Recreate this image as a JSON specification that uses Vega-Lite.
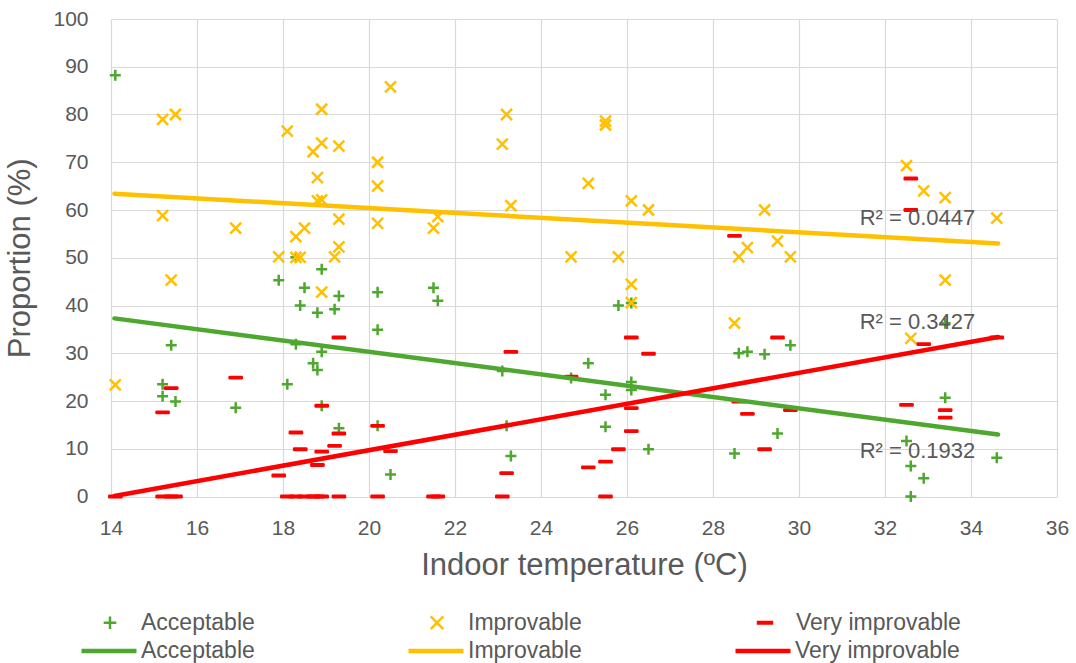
{
  "$schema": "https://vega.github.io/schema/vega-lite/v6.json",
  "width": 946,
  "height": 477.5,
  "autosize": {"type": "none"},
  "padding": {"left": 111, "top": 19, "right": 19, "bottom": 166},
  "background": "white",
  "config": {
    "font": "Liberation Sans",
    "view": {"stroke": null},
    "axis": {
      "gridColor": "#D9D9D9",
      "gridWidth": 1.2,
      "domain": false,
      "ticks": false,
      "labelFlush": false,
      "labelColor": "#595959",
      "titleColor": "#595959",
      "labelFontSize": 21,
      "titleFontSize": 31,
      "titleFontWeight": "normal"
    },
    "legend": {"labelLimit": 400}
  },
  "datasets": {
    "obs": [
      {"t": 14.1, "p": 88.2, "s": "Acceptable"},
      {"t": 17.9, "p": 45.3, "s": "Acceptable"},
      {"t": 18.3, "p": 50.1, "s": "Acceptable"},
      {"t": 18.9, "p": 47.6, "s": "Acceptable"},
      {"t": 18.5, "p": 43.7, "s": "Acceptable"},
      {"t": 19.3, "p": 42.0, "s": "Acceptable"},
      {"t": 18.4, "p": 40.0, "s": "Acceptable"},
      {"t": 18.8, "p": 38.5, "s": "Acceptable"},
      {"t": 19.2, "p": 39.2, "s": "Acceptable"},
      {"t": 15.4, "p": 31.7, "s": "Acceptable"},
      {"t": 18.3, "p": 31.9, "s": "Acceptable"},
      {"t": 18.9, "p": 30.3, "s": "Acceptable"},
      {"t": 18.7, "p": 27.9, "s": "Acceptable"},
      {"t": 18.8, "p": 26.5, "s": "Acceptable"},
      {"t": 18.1, "p": 23.5, "s": "Acceptable"},
      {"t": 15.2, "p": 23.5, "s": "Acceptable"},
      {"t": 15.2, "p": 21.0, "s": "Acceptable"},
      {"t": 15.5, "p": 19.9, "s": "Acceptable"},
      {"t": 16.9, "p": 18.6, "s": "Acceptable"},
      {"t": 18.9, "p": 19.0, "s": "Acceptable"},
      {"t": 19.3, "p": 14.3, "s": "Acceptable"},
      {"t": 20.2, "p": 42.8, "s": "Acceptable"},
      {"t": 21.5, "p": 43.7, "s": "Acceptable"},
      {"t": 21.6, "p": 41.0, "s": "Acceptable"},
      {"t": 20.2, "p": 34.9, "s": "Acceptable"},
      {"t": 23.1, "p": 26.3, "s": "Acceptable"},
      {"t": 24.7, "p": 24.8, "s": "Acceptable"},
      {"t": 25.1, "p": 27.9, "s": "Acceptable"},
      {"t": 20.2, "p": 14.8, "s": "Acceptable"},
      {"t": 23.2, "p": 14.8, "s": "Acceptable"},
      {"t": 23.3, "p": 8.5, "s": "Acceptable"},
      {"t": 20.5, "p": 4.6, "s": "Acceptable"},
      {"t": 25.8, "p": 40.0, "s": "Acceptable"},
      {"t": 26.1, "p": 40.5, "s": "Acceptable"},
      {"t": 25.5, "p": 21.3, "s": "Acceptable"},
      {"t": 26.1, "p": 24.0, "s": "Acceptable"},
      {"t": 26.1, "p": 22.3, "s": "Acceptable"},
      {"t": 25.5, "p": 14.6, "s": "Acceptable"},
      {"t": 26.5, "p": 9.9, "s": "Acceptable"},
      {"t": 28.6, "p": 30.0, "s": "Acceptable"},
      {"t": 28.8, "p": 30.3, "s": "Acceptable"},
      {"t": 29.2, "p": 29.8, "s": "Acceptable"},
      {"t": 29.8, "p": 31.7, "s": "Acceptable"},
      {"t": 29.5, "p": 13.2, "s": "Acceptable"},
      {"t": 28.5, "p": 9.0, "s": "Acceptable"},
      {"t": 33.4, "p": 36.3, "s": "Acceptable"},
      {"t": 33.4, "p": 20.7, "s": "Acceptable"},
      {"t": 32.5, "p": 11.6, "s": "Acceptable"},
      {"t": 32.6, "p": 6.4, "s": "Acceptable"},
      {"t": 32.9, "p": 3.8, "s": "Acceptable"},
      {"t": 32.6, "p": 0.0, "s": "Acceptable"},
      {"t": 34.6, "p": 8.1, "s": "Acceptable"},

      {"t": 15.2, "p": 79.0, "s": "Improvable"},
      {"t": 15.5, "p": 80.0, "s": "Improvable"},
      {"t": 18.1, "p": 76.5, "s": "Improvable"},
      {"t": 18.9, "p": 81.1, "s": "Improvable"},
      {"t": 18.9, "p": 74.0, "s": "Improvable"},
      {"t": 18.7, "p": 72.2, "s": "Improvable"},
      {"t": 19.3, "p": 73.4, "s": "Improvable"},
      {"t": 18.8, "p": 66.8, "s": "Improvable"},
      {"t": 18.8, "p": 61.9, "s": "Improvable"},
      {"t": 18.9, "p": 62.1, "s": "Improvable"},
      {"t": 15.2, "p": 58.8, "s": "Improvable"},
      {"t": 16.9, "p": 56.2, "s": "Improvable"},
      {"t": 18.5, "p": 56.2, "s": "Improvable"},
      {"t": 18.3, "p": 54.4, "s": "Improvable"},
      {"t": 19.3, "p": 58.1, "s": "Improvable"},
      {"t": 19.3, "p": 52.3, "s": "Improvable"},
      {"t": 17.9, "p": 50.2, "s": "Improvable"},
      {"t": 18.3, "p": 50.1, "s": "Improvable"},
      {"t": 18.4, "p": 50.1, "s": "Improvable"},
      {"t": 19.2, "p": 50.2, "s": "Improvable"},
      {"t": 15.4, "p": 45.3, "s": "Improvable"},
      {"t": 18.9, "p": 42.8, "s": "Improvable"},
      {"t": 14.1, "p": 23.4, "s": "Improvable"},
      {"t": 20.5, "p": 85.8, "s": "Improvable"},
      {"t": 20.2, "p": 70.0, "s": "Improvable"},
      {"t": 20.2, "p": 65.0, "s": "Improvable"},
      {"t": 20.2, "p": 57.2, "s": "Improvable"},
      {"t": 21.5, "p": 56.2, "s": "Improvable"},
      {"t": 21.6, "p": 58.6, "s": "Improvable"},
      {"t": 23.2, "p": 80.0, "s": "Improvable"},
      {"t": 23.1, "p": 73.8, "s": "Improvable"},
      {"t": 23.3, "p": 60.9, "s": "Improvable"},
      {"t": 25.1, "p": 65.6, "s": "Improvable"},
      {"t": 24.7, "p": 50.2, "s": "Improvable"},
      {"t": 25.5, "p": 78.6, "s": "Improvable"},
      {"t": 25.5, "p": 77.8, "s": "Improvable"},
      {"t": 26.1, "p": 61.9, "s": "Improvable"},
      {"t": 26.5, "p": 60.0, "s": "Improvable"},
      {"t": 25.8, "p": 50.2, "s": "Improvable"},
      {"t": 29.2, "p": 60.0, "s": "Improvable"},
      {"t": 28.8, "p": 52.1, "s": "Improvable"},
      {"t": 29.5, "p": 53.5, "s": "Improvable"},
      {"t": 28.6, "p": 50.2, "s": "Improvable"},
      {"t": 29.8, "p": 50.2, "s": "Improvable"},
      {"t": 26.1, "p": 44.4, "s": "Improvable"},
      {"t": 26.1, "p": 40.6, "s": "Improvable"},
      {"t": 28.5, "p": 36.3, "s": "Improvable"},
      {"t": 32.5, "p": 69.3, "s": "Improvable"},
      {"t": 32.9, "p": 64.0, "s": "Improvable"},
      {"t": 33.4, "p": 62.6, "s": "Improvable"},
      {"t": 34.6, "p": 58.3, "s": "Improvable"},
      {"t": 33.4, "p": 45.3, "s": "Improvable"},
      {"t": 32.6, "p": 33.1, "s": "Improvable"},

      {"t": 14.1, "p": 0.0, "s": "Very improvable"},
      {"t": 15.2, "p": 0.0, "s": "Very improvable"},
      {"t": 15.4, "p": 0.0, "s": "Very improvable"},
      {"t": 15.5, "p": 0.0, "s": "Very improvable"},
      {"t": 15.4, "p": 22.7, "s": "Very improvable"},
      {"t": 15.2, "p": 17.6, "s": "Very improvable"},
      {"t": 16.9, "p": 24.9, "s": "Very improvable"},
      {"t": 17.9, "p": 4.4, "s": "Very improvable"},
      {"t": 18.3, "p": 13.4, "s": "Very improvable"},
      {"t": 18.4, "p": 9.9, "s": "Very improvable"},
      {"t": 18.8, "p": 6.6, "s": "Very improvable"},
      {"t": 18.9, "p": 9.4, "s": "Very improvable"},
      {"t": 19.2, "p": 10.6, "s": "Very improvable"},
      {"t": 19.3, "p": 13.2, "s": "Very improvable"},
      {"t": 19.3, "p": 33.3, "s": "Very improvable"},
      {"t": 18.9, "p": 19.0, "s": "Very improvable"},
      {"t": 18.1, "p": 0.0, "s": "Very improvable"},
      {"t": 18.3, "p": 0.0, "s": "Very improvable"},
      {"t": 18.5, "p": 0.0, "s": "Very improvable"},
      {"t": 18.7, "p": 0.0, "s": "Very improvable"},
      {"t": 18.8, "p": 0.0, "s": "Very improvable"},
      {"t": 18.9, "p": 0.0, "s": "Very improvable"},
      {"t": 19.3, "p": 0.0, "s": "Very improvable"},
      {"t": 20.2, "p": 14.8, "s": "Very improvable"},
      {"t": 20.5, "p": 9.5, "s": "Very improvable"},
      {"t": 20.2, "p": 0.0, "s": "Very improvable"},
      {"t": 21.5, "p": 0.0, "s": "Very improvable"},
      {"t": 21.6, "p": 0.0, "s": "Very improvable"},
      {"t": 23.1, "p": 0.0, "s": "Very improvable"},
      {"t": 23.3, "p": 30.3, "s": "Very improvable"},
      {"t": 23.2, "p": 4.9, "s": "Very improvable"},
      {"t": 24.7, "p": 25.1, "s": "Very improvable"},
      {"t": 25.1, "p": 6.1, "s": "Very improvable"},
      {"t": 25.5, "p": 7.3, "s": "Very improvable"},
      {"t": 25.5, "p": 0.0, "s": "Very improvable"},
      {"t": 25.8, "p": 9.9, "s": "Very improvable"},
      {"t": 26.1, "p": 33.3, "s": "Very improvable"},
      {"t": 26.5, "p": 29.9, "s": "Very improvable"},
      {"t": 26.1, "p": 18.5, "s": "Very improvable"},
      {"t": 26.1, "p": 13.7, "s": "Very improvable"},
      {"t": 29.5, "p": 33.3, "s": "Very improvable"},
      {"t": 28.8, "p": 17.3, "s": "Very improvable"},
      {"t": 28.6, "p": 19.9, "s": "Very improvable"},
      {"t": 29.8, "p": 18.1, "s": "Very improvable"},
      {"t": 29.2, "p": 9.9, "s": "Very improvable"},
      {"t": 32.9, "p": 31.9, "s": "Very improvable"},
      {"t": 34.6, "p": 33.3, "s": "Very improvable"},
      {"t": 32.5, "p": 19.2, "s": "Very improvable"},
      {"t": 33.4, "p": 18.1, "s": "Very improvable"},
      {"t": 33.4, "p": 16.5, "s": "Very improvable"},
      {"t": 32.6, "p": 66.6, "s": "Very improvable"},
      {"t": 32.6, "p": 60.0, "s": "Very improvable"},
      {"t": 28.5, "p": 54.6, "s": "Very improvable"}
    ],
    "trend": [
      {"t": 14.08, "p": 37.3, "s": "Acceptable"},
      {"t": 34.63, "p": 13.0, "s": "Acceptable"},
      {"t": 14.08, "p": 63.4, "s": "Improvable"},
      {"t": 34.63, "p": 53.0, "s": "Improvable"},
      {"t": 14.08, "p": 0.1, "s": "Very improvable"},
      {"t": 34.63, "p": 33.4, "s": "Very improvable"}
    ],
    "fit": [
      {"t": 31.41, "p": 56.9, "label": "R² = 0.0447"},
      {"t": 31.41, "p": 35.0, "label": "R² = 0.3427"},
      {"t": 31.41, "p": 8.0, "label": "R² = 0.1932"}
    ]
  },
  "layer": [
    {
      "data": {"name": "obs"},
      "mark": {"type": "point", "filled": false, "opacity": 1, "strokeWidth": 2.5, "strokeJoin": "round", "size": 121},
      "encoding": {
        "x": {
          "field": "t", "type": "quantitative",
          "scale": {"domain": [14, 36], "nice": false, "zero": false},
          "axis": {"values": [14, 16, 18, 20, 22, 24, 26, 28, 30, 32, 34, 36], "labelPadding": 21, "titlePadding": 12, "title": "Indoor temperature (ºC)"}
        },
        "y": {
          "field": "p", "type": "quantitative",
          "scale": {"domain": [0, 100], "nice": false},
          "axis": {"values": [0, 10, 20, 30, 40, 50, 60, 70, 80, 90, 100], "labelPadding": 23, "titlePadding": 16, "title": "Proportion (%)"}
        },
        "color": {
          "field": "s", "type": "nominal",
          "scale": {"domain": ["Acceptable", "Improvable", "Very improvable"], "range": ["#4EA72E", "#FFC000", "#FF0000"]},
          "legend": {
            "orient": "none", "legendX": -12.5, "legendY": 592, "direction": "horizontal", "columns": 3,
            "title": null, "padding": 0, "labelFontSize": 23, "labelColor": "#595959", "labelOffset": 19.5,
            "columnPadding": 170, "symbolSize": 160, "symbolStrokeWidth": 2.5, "labelLimit": 400
          }
        },
        "shape": {
          "field": "s", "type": "nominal",
          "scale": {
            "domain": ["Acceptable", "Improvable", "Very improvable"],
            "range": ["M-1,0L1,0M0,-1L0,1", "M-1,-1L1,1M-1,1L1,-1", "M-1.1,-0.12L1.1,-0.12L1.1,0.12L-1.1,0.12Z"]
          },
          "legend": {
            "orient": "none", "legendX": -12.5, "legendY": 592, "direction": "horizontal", "columns": 3,
            "title": null, "padding": 0, "labelFontSize": 23, "labelColor": "#595959", "labelOffset": 19.5,
            "columnPadding": 170, "symbolSize": 160, "symbolStrokeWidth": 2.5, "labelLimit": 400
          }
        }
      }
    },
    {
      "data": {"name": "trend"},
      "mark": {"type": "line", "strokeWidth": 4.5, "strokeCap": "round"},
      "encoding": {
        "x": {"field": "t", "type": "quantitative"},
        "y": {"field": "p", "type": "quantitative"},
        "color": {
          "field": "s", "type": "nominal",
          "scale": {"domain": ["Acceptable", "Improvable", "Very improvable"], "range": ["#4EA72E", "#FFC000", "#FF0000"]},
          "legend": {
            "orient": "none", "legendX": -32, "legendY": 602, "direction": "horizontal", "columns": 3,
            "title": null, "padding": 0, "labelFontSize": 23, "labelColor": "#595959", "labelOffset": 2,
            "columnPadding": 144, "symbolType": "stroke", "symbolSize": 3025, "symbolStrokeWidth": 4.5, "labelLimit": 400
          }
        }
      }
    },
    {
      "data": {"name": "fit"},
      "mark": {"type": "text", "align": "left", "baseline": "alphabetic", "fontSize": 22, "color": "#595959"},
      "encoding": {
        "x": {"field": "t", "type": "quantitative"},
        "y": {"field": "p", "type": "quantitative"},
        "text": {"field": "label"}
      }
    }
  ],
  "resolve": {"scale": {"color": "independent", "shape": "independent"}}
}
